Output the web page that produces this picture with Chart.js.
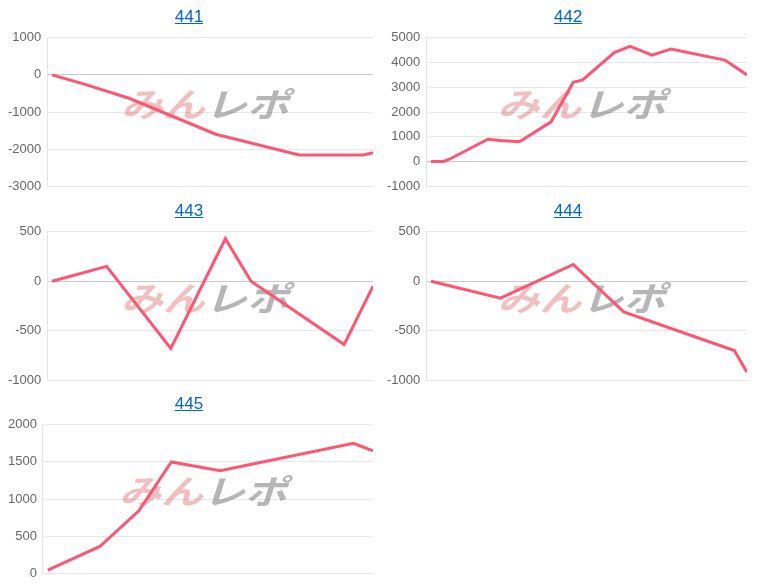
<!DOCTYPE html>
<html>
<head>
<meta charset="utf-8">
<script src="https://cdn.jsdelivr.net/npm/chart.js@4"></script>
<style>
body { margin: 0; background: #fff; font-family: "Liberation Sans", Arial, sans-serif; }
.cell { position: absolute; width: 378px; height: 194px; }
.cell a { color: #0066cc; font-size: 17px; }
.cell .title { position: absolute; left: 0; width: 100%; top: 7px; text-align: center; }
.cell canvas { position: absolute; left: 0; top: 24px; }
</style>
</head>
<body>
<div class="cell" style="left:0;top:0"><div class="title"><a href="#">441</a></div><canvas id="c441" width="378" height="176"></canvas></div>
<div class="cell" style="left:379px;top:0"><div class="title"><a href="#">442</a></div><canvas id="c442" width="378" height="176"></canvas></div>
<div class="cell" style="left:0;top:194px"><div class="title"><a href="#">443</a></div><canvas id="c443" width="378" height="176"></canvas></div>
<div class="cell" style="left:379px;top:194px"><div class="title"><a href="#">444</a></div><canvas id="c444" width="378" height="176"></canvas></div>
<div class="cell" style="left:0;top:387px"><div class="title"><a href="#">445</a></div><canvas id="c445" width="378" height="176"></canvas></div>
<script>
// x positions (progress 0-100) and values
const x441 = [0, 10, 24, 51, 77, 97, 100];
const y441 = [0, -250, -630, -1600, -2160, -2160, -2100];
const x442 = [0, 4, 6, 18, 22, 28, 38, 45, 48, 58, 63, 70, 76, 93, 100];
const y442 = [0, 0, 100, 900, 850, 800, 1600, 3200, 3300, 4400, 4650, 4300, 4550, 4100, 3500];
const x443 = [0, 17, 37, 54, 62, 91, 100];
const y443 = [0, 150, -680, 430, 0, -640, -50];
const x444 = [0, 22, 45, 61, 96, 100];
const y444 = [0, -170, 170, -310, -700, -920];
const x445 = [0, 16, 28, 38, 53, 94, 100];
const y445 = [40, 360, 840, 1500, 1380, 1750, 1650];

const watermark = {
    id: 'watermark',
    beforeDatasetsDraw(chart) {
        const a = chart.chartArea;
        const ctx = chart.ctx;
        const cx = (a.left + a.right) / 2 - 5;
        const cy = (a.top + a.bottom) / 2 - 8;
        ctx.save();
        ctx.translate(0, cy);
        ctx.scale(1, 0.8);
        ctx.font = 'italic bold 42px "Noto Sans CJK JP"';
        ctx.textBaseline = 'middle';
        const w1 = ctx.measureText('みん').width;
        const w2 = ctx.measureText('レポ').width;
        const x0 = cx - (w1 + w2) / 2;
        ctx.fillStyle = 'rgba(215, 90, 90, 0.38)';
        ctx.fillText('みん', x0, 0);
        ctx.fillStyle = 'rgba(110, 110, 110, 0.5)';
        ctx.fillText('レポ', x0 + w1, 0);
        ctx.restore();
    }
};

function makeChart(id, xs, ys, min, max, step, padRight) {
    new Chart(document.getElementById(id), {
        type: 'line',
        data: {
            datasets: [{
                data: xs.map((x, i) => ({ x: x, y: ys[i] })),
                borderColor: 'rgb(255, 85, 115)',
                borderWidth: 3,
                pointRadius: 0,
                tension: 0
            }]
        },
        options: {
            responsive: false,
            animation: false,
            plugins: { legend: { display: false }, tooltip: { enabled: false } },
            layout: { padding: { right: padRight, left: 2, top: 2, bottom: 0 } },
            scales: {
                x: {
                    type: 'linear', min: -1.5, max: 100,
                    ticks: { display: false },
                    grid: { display: false },
                    border: { color: '#e5e5e5' }
                },
                y: {
                    min: min, max: max,
                    ticks: { stepSize: step, color: '#666', font: { size: 13 }, padding: 6, callback: v => String(v) },
                    grid: { color: c => c.tick.value === 0 ? '#c8c8c8' : '#e8e8e8', drawTicks: false },
                    border: { display: true, color: '#e5e5e5' }
                }
            }
        },
        plugins: [watermark]
    });
}

makeChart('c441', x441, y441, -3000, 1000, 1000, 5);
makeChart('c442', x442, y442, -1000, 5000, 1000, 10);
makeChart('c443', x443, y443, -1000, 500, 500, 5);
makeChart('c444', x444, y444, -1000, 500, 500, 10);
makeChart('c445', x445, y445, 0, 2000, 500, 5);
</script>
</body>
</html>
